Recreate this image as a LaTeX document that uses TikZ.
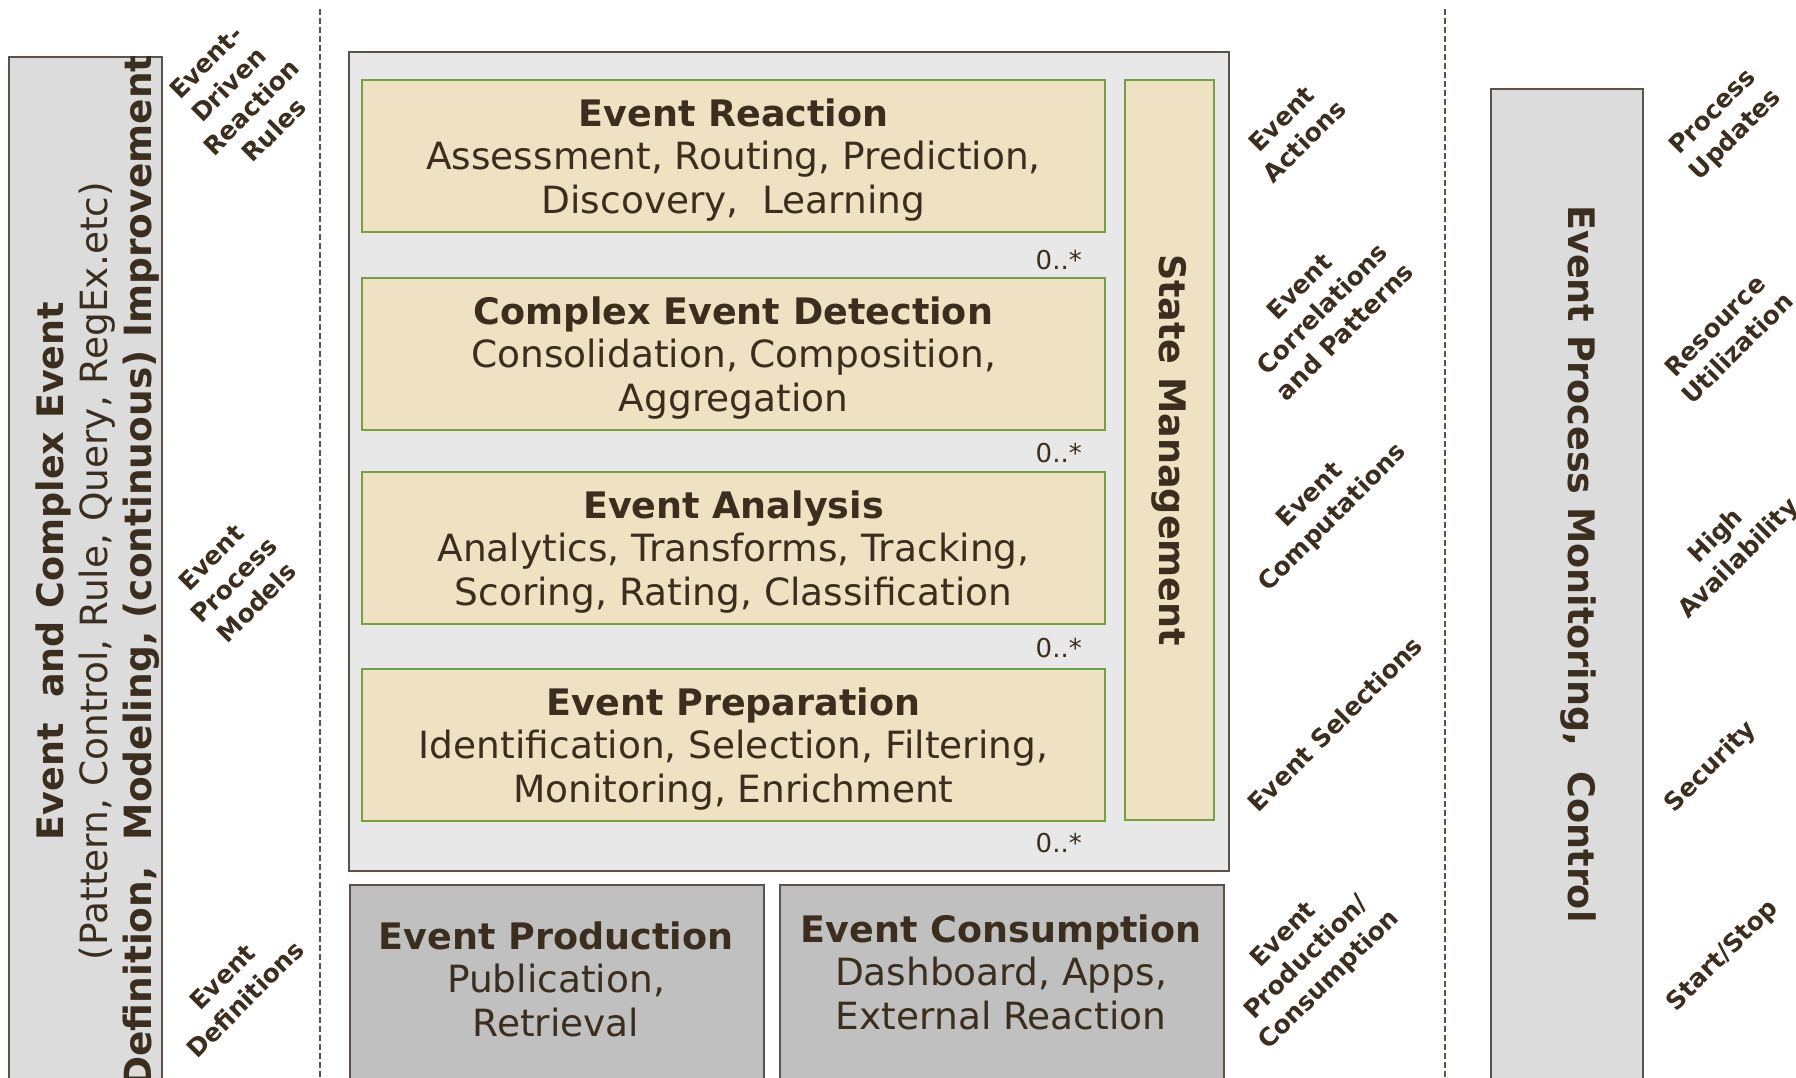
\documentclass[tikz,border=0pt]{standalone}
\usepackage{fontspec}
\setmainfont{DejaVu Sans}
\definecolor{ink}{HTML}{3B2E1E}
\definecolor{edge}{HTML}{5C5248}
\definecolor{leaf}{HTML}{74A043}
\definecolor{sand}{HTML}{EEE2C3}
\definecolor{panel}{HTML}{E8E8E8}
\definecolor{side}{HTML}{DCDCDC}
\definecolor{base}{HTML}{C0C0C0}
% bold heading line inside a box
\newcommand\boxhead[1]{{\fontsize{36.5pt}{43.5pt}\selectfont\bfseries #1}}
\tikzset{
  every node/.style={text=ink, inner sep=0pt},
  frame/.style={draw=edge, line width=2pt, anchor=north west},
  stage/.style={draw=leaf, fill=sand, line width=2pt, anchor=north west,
    minimum width=743pt, minimum height=152pt},
  bigtext/.style={align=center, font=\fontsize{37.5pt}{43.5pt}\selectfont},
  mult/.style={anchor=base east, font=\fontsize{26pt}{30pt}\selectfont},
  tag/.style={rotate=45, align=center, font=\fontsize{25pt}{32pt}\selectfont\bfseries},
  sep/.style={draw=edge, line width=1.7pt, dash pattern=on 6pt off 3pt}
}
\begin{document}
\begin{tikzpicture}[x=1pt,y=-1pt]
\useasboundingbox (0,0) rectangle (1796,1077);

% column separators
\coordinate (sepAtop) at (320,9);
\coordinate (sepAbot) at (320,1077);
\coordinate (sepBtop) at (1445,9);
\coordinate (sepBbot) at (1445,1077);
\draw[sep] (sepAtop) -- (sepAbot);
\draw[sep] (sepBtop) -- (sepBbot);

% definition column
\node[frame, fill=side, minimum width=153pt, minimum height=1040pt] (defbox) at (8,56) {};
\begin{scope}
  \clip (8,56) rectangle (161,1100);
  \node[bigtext, rotate=90, font=\fontsize{37.5pt}{44pt}\selectfont] (deftext) at (98,571)
    {\boxhead{Event\ \ and Complex Event}\\
     (Pattern, Control, Rule, Query, RegEx.etc)\\
     {\fontsize{37.5pt}{44pt}\selectfont\bfseries Definition,\ \ Modeling, (continuous) Improvement}};
\end{scope}

% processing container
\node[frame, fill=panel, minimum width=880pt, minimum height=819pt] (core) at (348,51) {};

\node[stage] (reaction) at (361,79) {};
\node[bigtext] (reactiontext) at ([yshift=-4pt]reaction.center)
  {\boxhead{Event Reaction}\\ Assessment, Routing, Prediction,\\ Discovery,\ \ Learning};
\node[stage] (detect) at (361,277) {};
\node[bigtext] (detecttext) at ([yshift=-4pt]detect.center)
  {\boxhead{Complex Event Detection}\\ Consolidation, Composition,\\ Aggregation};
\node[stage] (analysis) at (361,471) {};
\node[bigtext] (analysistext) at ([yshift=-4pt]analysis.center)
  {\boxhead{Event Analysis}\\ Analytics, Transforms, Tracking,\\ Scoring, Rating, Classification};
\node[stage] (prep) at (361,668) {};
\node[bigtext] (preptext) at ([yshift=-4pt]prep.center)
  {\boxhead{Event Preparation}\\ Identification, Selection, Filtering,\\ Monitoring, Enrichment};

\node[draw=leaf, fill=sand, line width=2pt, anchor=north west,
      minimum width=89pt, minimum height=740pt] (state) at (1124,79) {};
\node[rotate=-90, font=\fontsize{36.5pt}{43.5pt}\selectfont\bfseries] (statetext)
  at (state.center) {State Management};

\node[mult] (m1) at (1082,269) {0..*};
\node[mult] (m2) at (1082,462) {0..*};
\node[mult] (m3) at (1082,657) {0..*};
\node[mult] (m4) at (1082,852) {0..*};

% producers and consumers
\node[frame, fill=base, minimum width=414pt, minimum height=220pt] (prod) at (349,884) {};
\node[bigtext] (prodtext) at (556,979)
  {\boxhead{Event Production}\\ Publication,\\ Retrieval};
\node[frame, fill=base, minimum width=444pt, minimum height=220pt] (cons) at (779,884) {};
\node[bigtext] (constext) at (1001,972)
  {\boxhead{Event Consumption}\\ Dashboard, Apps,\\ External Reaction};

% monitoring column
\node[frame, fill=side, minimum width=152pt, minimum height=1010pt] (mon) at (1490,88) {};
\node[rotate=-90, font=\fontsize{36.5pt}{43.5pt}\selectfont\bfseries] (montext)
  at (1578,564) {Event Process Monitoring,\ \ Control};

% diagonal tags, left
\node[tag] (t1) at (240,96) {Event-\\Driven\\Reaction\\Rules};
\node[tag] (t2) at (234,580) {Event\\Process\\Models};
\node[tag] (t3) at (234,988) {Event\\Definitions};

% diagonal tags, middle
\node[tag] (t4) at (1293,130) {Event\\Actions};
\node[tag] (t5) at (1322,309) {Event\\Correlations\\and Patterns};
\node[tag] (t6) at (1322,507) {Event\\Computations};
\node[tag] (t7) at (1335,724) {Event Selections};
\node[tag] (t8) at (1307,958) {Event\\Production/\\Consumption};

% diagonal tags, right
\node[tag] (t9) at (1725,124) {Process\\Updates};
\node[tag] (t10) at (1726,337) {Resource\\Utilization};
\node[tag] (t11) at (1728,548) {High\\Availability};
\node[tag] (t12) at (1711,767) {Security};
\node[tag] (t13) at (1723,956) {Start/Stop};
\end{tikzpicture}
\end{document}
